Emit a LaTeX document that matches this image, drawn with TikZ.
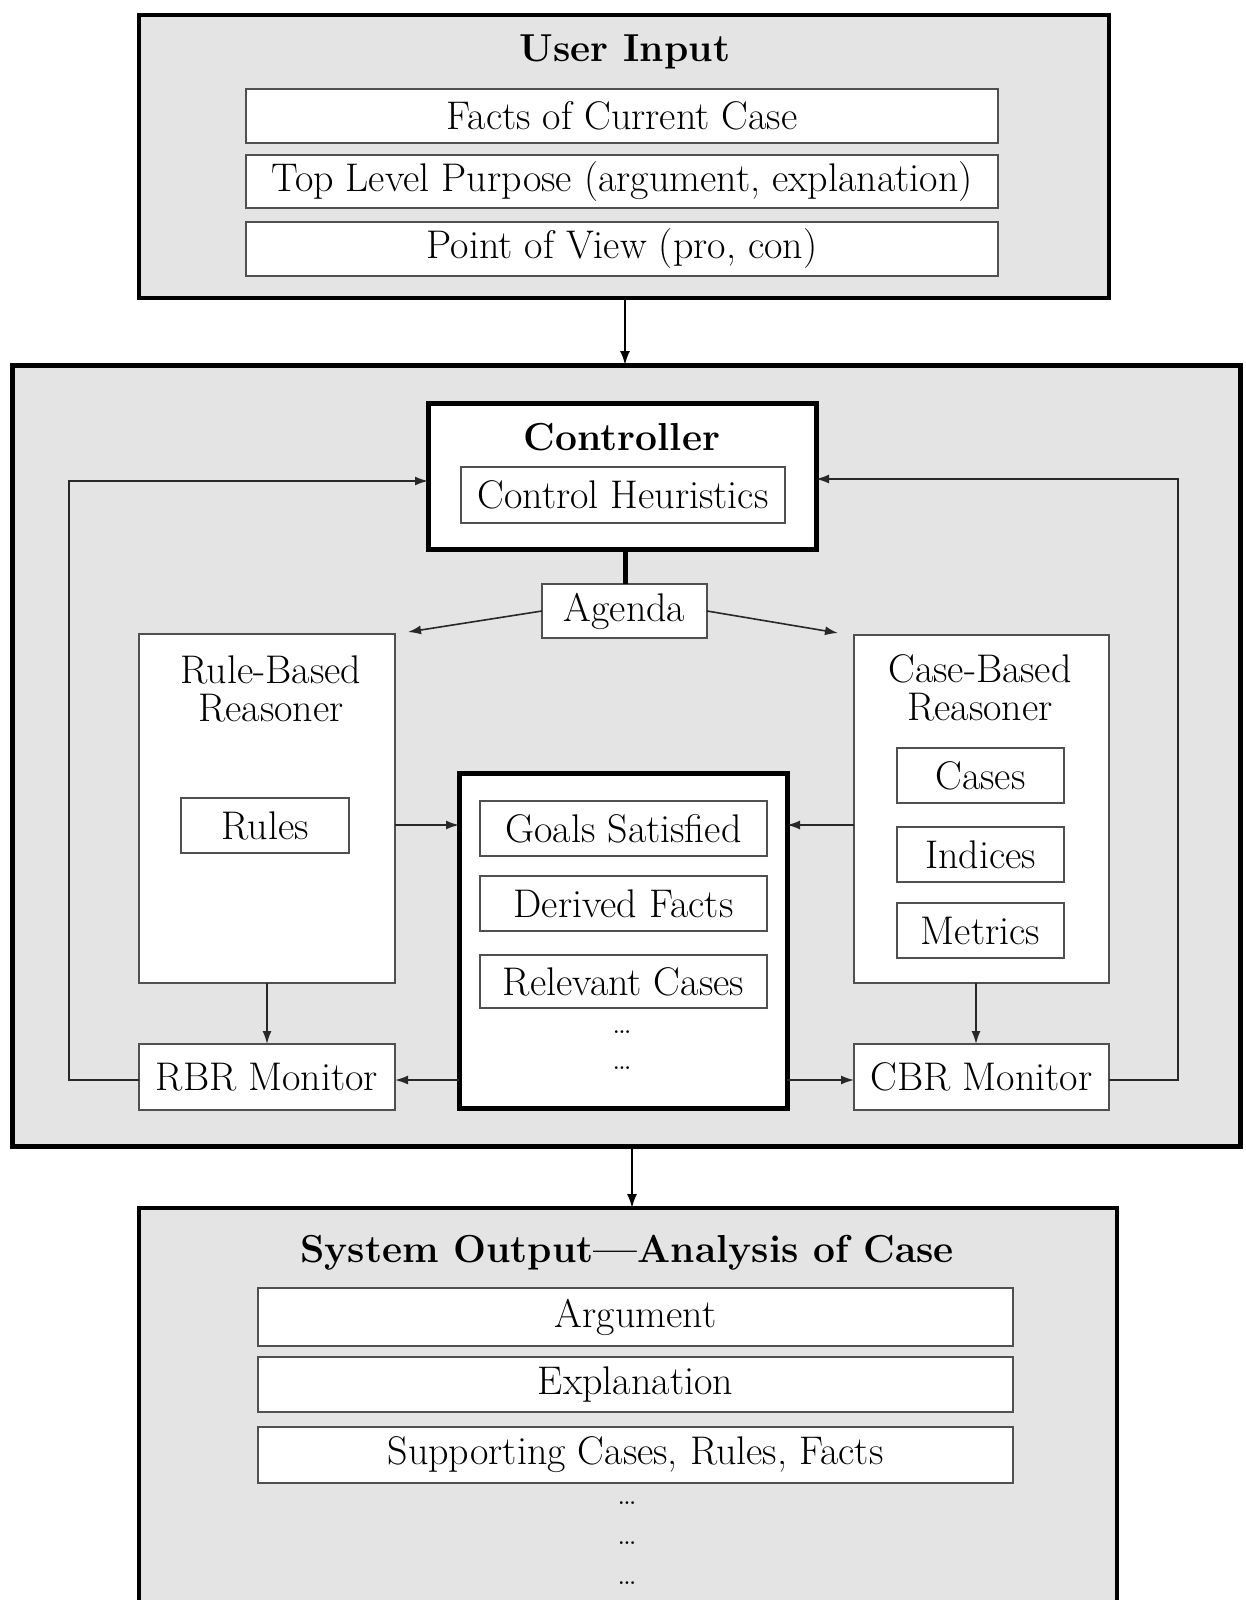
\documentclass[tikz,border=0pt]{standalone}
\usetikzlibrary{arrows.meta}
\definecolor{panelgrey}{RGB}{228,228,228}
\definecolor{edgegrey}{RGB}{80,80,80}
\definecolor{wiregrey}{RGB}{40,40,40}
\newcommand\bodyfont{\fontsize{40}{38}\selectfont}
\newcommand\titlefont{\fontsize{39}{40}\selectfont\bfseries}
\newcommand\dotsfont{\fontsize{34}{34}\selectfont}
\begin{document}
\begin{tikzpicture}[x=1pt,y=-1pt,
  panel/.style={draw=black, line width=4.5pt, fill=panelgrey, inner sep=0pt, outer sep=0pt},
  heavybox/.style={draw=black, line width=5pt, fill=white, inner sep=0pt, outer sep=0pt},
  slot/.style={draw=edgegrey, line width=2pt, fill=white, inner sep=0pt, outer sep=0pt, font=\bodyfont},
  label/.style={inner sep=0pt, font=\bodyfont, align=center},
  heading/.style={inner sep=0pt, font=\titlefont},
  ellip/.style={inner sep=0pt, font=\dotsfont},
  wire/.style={draw=wiregrey, line width=1.6pt},
  arr/.style={wire, -{Latex[length=13pt,width=9pt]}},
  bigarr/.style={draw=black, line width=2pt, -{Latex[length=14pt,width=10pt]}}
]
\useasboundingbox (0,0) rectangle (1245,1600);
\clip (0,0) rectangle (1245,1600);
\fill[white] (0,0) rectangle (1245,1600);

% ---------- user input ----------
\node[panel, minimum width=970pt, minimum height=283pt] (input) at (624,156.5) {};
\node[heading] (inputtitle) at (625,52) {User Input};
\node[slot, minimum width=752pt, minimum height=54pt] (facts) at (622,116) {Facts of Current Case};
\node[slot, minimum width=752pt, minimum height=53pt] (purpose) at (622,181.5) {Top Level Purpose (argument, explanation)};
\node[slot, minimum width=752pt, minimum height=54pt] (view) at (622,249) {Point of View (pro, con)};

% ---------- reasoning system ----------
\node[panel, line width=5pt, minimum width=1228pt, minimum height=781pt] (system) at (626,755.5) {};
\draw[bigarr] (input.south -| 625,0) -- (system.north -| 625,0);

% controller
\node[heavybox, minimum width=388pt, minimum height=146pt] (ctrl) at (622,476) {};
\node[heading] (ctrltitle) at (622,437) {Controller};
\node[slot, minimum width=324pt, minimum height=56pt] (heur) at (623,495) {Control Heuristics};

% agenda
\node[slot, minimum width=165pt, minimum height=54pt] (agenda) at (624.5,611) {Agenda};
\draw[draw=black, line width=5pt] (ctrl.south -| 625,0) -- (agenda.north -| 625,0);

% reasoners
\node[slot, minimum width=256pt, minimum height=349pt] (rbr) at (267,808.5) {};
\node[label] (rbrtitle) at (271,689) {Rule-Based\\Reasoner};
\node[slot, minimum width=168pt, minimum height=55pt] (rules) at (265,825.5) {Rules};

\node[slot, minimum width=255pt, minimum height=348pt] (cbr) at (981.5,809) {};
\node[label] (cbrtitle) at (980,688) {Case-Based\\Reasoner};
\node[slot, minimum width=167pt, minimum height=55pt] (cases) at (980.5,775.5) {Cases};
\node[slot, minimum width=167pt, minimum height=55pt] (indices) at (980.5,854.5) {Indices};
\node[slot, minimum width=167pt, minimum height=55pt] (metrics) at (980.5,930.5) {Metrics};

\coordinate (rbrtip) at (408,632);
\coordinate (cbrtip) at (838,633);
\draw[arr] (agenda.west) -- (rbrtip);
\draw[arr] (agenda.east) -- (cbrtip);

% shared working memory
\node[heavybox, minimum width=328pt, minimum height=335pt] (memory) at (623,940.5) {};
\node[slot, minimum width=287pt, minimum height=55pt] (goals) at (623.5,828.5) {Goals Satisfied};
\node[slot, minimum width=287pt, minimum height=55pt] (derived) at (623.5,903.5) {Derived Facts};
\node[slot, minimum width=287pt, minimum height=53pt] (relevant) at (623.5,981.5) {Relevant Cases};
\node[ellip] (mdots1) at (622,1032) {\dots};
\node[ellip] (mdots2) at (622,1068) {\dots};

% monitors
\node[slot, minimum width=256pt, minimum height=66pt] (rbrmon) at (267,1077) {RBR Monitor};
\node[slot, minimum width=255pt, minimum height=66pt] (cbrmon) at (981.5,1077) {CBR Monitor};

% connectors inside the system
\coordinate (flowy) at (0,825);
\coordinate (mony) at (0,1080);
\draw[arr] (rbr.east |- flowy) -- (memory.west |- flowy);
\draw[arr] (cbr.west |- flowy) -- (memory.east |- flowy);
\draw[arr] (rbr.south) -- (rbrmon.north);
\draw[arr] (cbr.south -| 976,0) -- (cbrmon.north -| 976,0);
\draw[arr] (memory.west |- mony) -- (rbrmon.east |- mony);
\draw[arr] (memory.east |- mony) -- (cbrmon.west |- mony);

% feedback loops to the controller
\coordinate (lloop) at (69,481);
\coordinate (rloop) at (1178,479);
\draw[arr] (rbrmon.west |- mony) -| (lloop) -- (ctrl.west |- lloop);
\draw[arr] (cbrmon.east |- mony) -| (rloop) -- (ctrl.east |- rloop);

% ---------- system output ----------
\node[panel, minimum width=978pt, minimum height=432pt] (output) at (628,1424) {};
\draw[bigarr] (system.south -| 632,0) -- (output.north -| 632,0);
\node[heading] (outtitle) at (627,1253) {System Output---Analysis of Case};
\node[slot, minimum width=755pt, minimum height=58pt] (argument) at (635.5,1317) {Argument};
\node[slot, minimum width=755pt, minimum height=55pt] (explanation) at (635.5,1384.5) {Explanation};
\node[slot, minimum width=755pt, minimum height=56pt] (supporting) at (635.5,1455) {Supporting Cases, Rules, Facts};
\node[ellip] (odots1) at (627,1503) {\dots};
\node[ellip] (odots2) at (627,1543) {\dots};
\node[ellip] (odots3) at (627,1583) {\dots};
\end{tikzpicture}
\end{document}
